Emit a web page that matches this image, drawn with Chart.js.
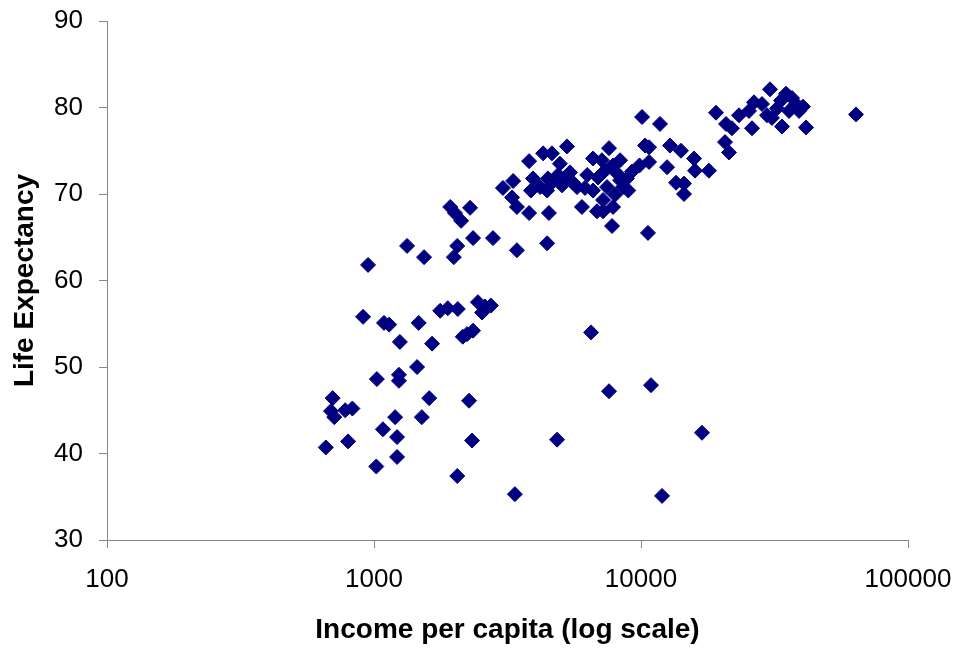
<!DOCTYPE html>
<html>
<head>
<meta charset="utf-8">
<script src="https://cdn.jsdelivr.net/npm/chart.js@4.4.0/dist/chart.umd.min.js"></script>
<style>
  html, body { margin: 0; padding: 0; background: #fff; }
  #wrap { width: 961px; height: 650px; }
</style>
</head>
<body>
<div id="wrap"><canvas id="lifeChart"></canvas></div>
<script>
// income per capita (x) and life expectancy (y)
var income = [
  660, 700, 690, 710, 780, 830, 800, 1020, 1025, 1080,
  1090, 1140, 1220, 1220, 1240, 1240, 1250, 910, 950, 1200,
  1330, 1450, 1470, 1510, 1540, 1610, 1650, 1770, 1890, 2060,
  1930, 2010, 2120, 1990, 2050, 2050, 2150, 2230, 2350, 2290,
  2270, 2330, 2350, 2450, 2600, 2740, 2540, 2790, 3040, 3320,
  3290, 3430, 3430, 3370, 3810, 3810, 4300, 4640, 4450, 4520,
  4850, 5280, 3870, 4190, 4450, 4640, 4890, 4970, 5190, 5420,
  5760, 6170, 4480, 5060, 6010, 6840, 7210, 6500, 7590, 7860,
  7790, 6610, 7140, 7330, 7860, 8130, 8350, 8860, 9260, 7460,
  8560, 7210, 6900, 7990, 7590, 10090, 11780, 10350, 10720, 10720,
  10620, 10900, 12520, 12840, 14120, 13530, 14490, 14490, 15800, 15930,
  17970, 11990, 16920, 19090, 20820, 21910, 20640, 21370, 23280, 25380,
  26500, 28390, 26050, 30420, 29650, 30940, 33440, 34920, 36790, 38060,
  35850, 39080, 40440, 32310, 33730, 41500, 63870, 3940, 5570, 6290,
  6610, 8350, 8960, 9870
];
var lifeExp = [
  40.7, 46.4, 44.9, 44.2, 45.0, 45.2, 41.4, 38.5, 48.6, 42.8,
  55.1, 54.9, 41.9, 39.6, 49.1, 48.4, 52.9, 55.8, 61.8, 44.2,
  64.0, 50.0, 55.1, 44.2, 62.7, 46.4, 52.7, 56.5, 56.8, 56.7,
  68.5, 67.8, 66.9, 62.7, 64.0, 37.4, 53.5, 53.8, 54.2, 68.4,
  46.1, 41.5, 64.9, 57.5, 57.0, 57.1, 56.3, 64.9, 70.7, 71.5,
  69.6, 68.5, 63.5, 35.3, 73.8, 67.8, 74.7, 74.7, 64.3, 67.8,
  41.6, 75.5, 70.4, 70.8, 70.4, 71.3, 72.2, 73.5, 71.9, 72.5,
  70.8, 70.7, 71.8, 71.0, 68.5, 68.0, 68.0, 54.0, 75.3, 68.5,
  66.3, 74.1, 73.9, 72.7, 73.3, 72.4, 71.6, 71.8, 72.6, 70.8,
  70.8, 69.3, 71.9, 69.9, 47.2, 78.9, 78.1, 75.6, 75.4, 73.7,
  65.5, 47.9, 73.1, 75.6, 75.0, 71.3, 71.2, 70.0, 74.1, 72.7,
  72.7, 35.1, 42.4, 79.4, 78.1, 77.6, 76.0, 74.8, 79.1, 79.6,
  80.6, 80.4, 77.6, 82.1, 79.1, 78.8, 80.8, 81.6, 81.1, 80.4,
  79.6, 79.6, 80.1, 79.9, 77.8, 77.7, 79.2, 71.8, 71.3, 72.2,
  70.4, 73.9, 70.4, 73.3
];
var xTicks = [100, 1000, 10000, 100000];
var yMin = 30, yMax = 90, yStep = 10;

var points = [];
for (var i = 0; i < income.length; i++) {
  points.push({ x: income[i], y: lifeExp[i] });
}

var axisGrey = '#868686';
var navy = '#000080';
var fontFam = 'Liberation Sans, Arial, sans-serif';

var ctx = document.getElementById('lifeChart').getContext('2d');
var lifeChart = new Chart(ctx, {
  type: 'scatter',
  data: {
    datasets: [{
      label: 'Countries',
      data: points,
      pointStyle: 'rectRot',
      pointRadius: 7.5,
      pointBackgroundColor: navy,
      pointBorderColor: navy,
      pointBorderWidth: 1,
      clip: false
    }]
  },
  options: {
    responsive: true,
    maintainAspectRatio: false,
    animation: false,
    layout: { padding: { top: 21, right: 53, left: 0, bottom: 0 } },
    plugins: {
      legend: { display: false },
      tooltip: { enabled: false }
    },
    scales: {
      x: {
        type: 'logarithmic',
        min: 100,
        max: 100000,
        afterBuildTicks: function (scale) {
          scale.ticks = xTicks.map(function (v) { return { value: v }; });
        },
        afterFit: function (scale) {
          scale.height = 110;
          scale.paddingLeft = 0;
          scale.paddingRight = 0;
        },
        grid: { drawOnChartArea: false, drawTicks: true, tickLength: 8, color: axisGrey },
        border: { color: axisGrey, width: 1 },
        ticks: {
          color: '#000',
          padding: 16,
          maxRotation: 0,
          autoSkip: false,
          font: { family: fontFam, size: 26 },
          callback: function (value) { return String(value); }
        },
        title: {
          display: true,
          text: 'Income per capita (log scale)',
          color: '#000',
          padding: { top: 4, bottom: 3 },
          font: { family: fontFam, size: 28, weight: 'bold' }
        }
      },
      y: {
        min: yMin,
        max: yMax,
        afterFit: function (scale) {
          scale.width = 107;
          scale.paddingTop = 0;
          scale.paddingBottom = 0;
        },
        grid: { drawOnChartArea: false, drawTicks: true, tickLength: 8, color: axisGrey },
        border: { color: axisGrey, width: 1 },
        ticks: {
          stepSize: yStep,
          color: '#000',
          padding: 16,
          font: { family: fontFam, size: 26 }
        },
        title: {
          display: true,
          text: 'Life Expectancy',
          color: '#000',
          padding: { top: 8, bottom: 4 },
          font: { family: fontFam, size: 28, weight: 'bold' }
        }
      }
    }
  }
});
</script>
</body>
</html>
